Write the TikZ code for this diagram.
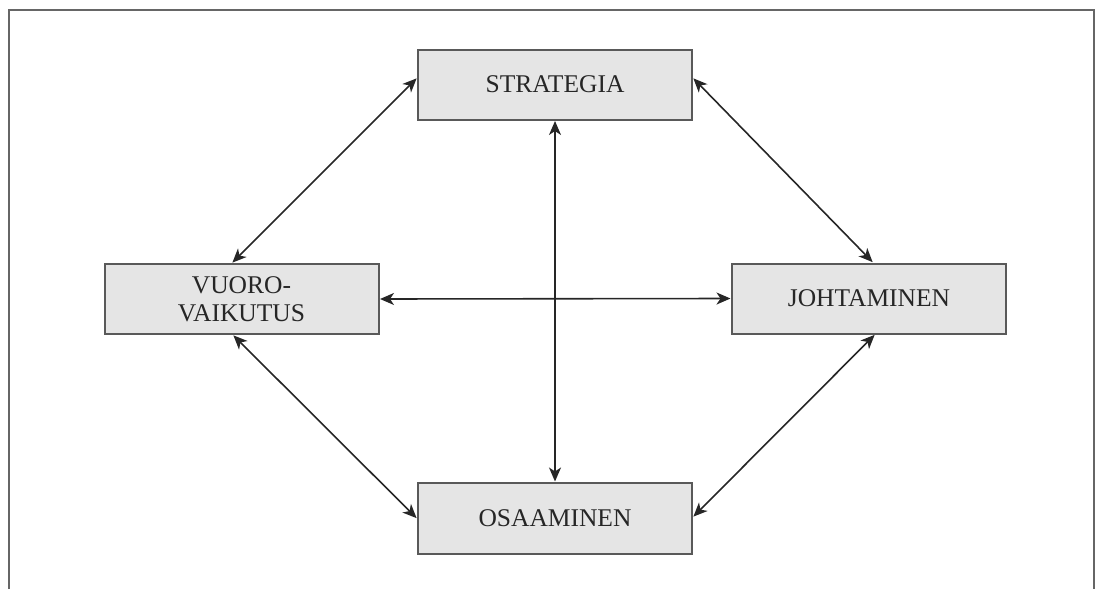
\documentclass[tikz,border=0pt]{standalone}
\usepackage{fontspec}
\setmainfont{Liberation Serif}
\usetikzlibrary{arrows.meta}
\begin{document}
\begin{tikzpicture}[x=1pt,y=-1pt,
  box/.style={draw=black!65,line width=2pt,fill=black!10,minimum width=274pt,minimum height=70pt,inner sep=0pt,align=center,text=black!85,font=\fontsize{25.5}{28}\selectfont},
  link/.style={line width=1.6pt,draw=black!85,{Stealth[length=14pt,width=12pt,inset=4pt]}-{Stealth[length=14pt,width=12pt,inset=4pt]},shorten <=0.5pt,shorten >=0.5pt}]
\useasboundingbox (0,0) rectangle (1100,589);
\draw[line width=2pt,black!60] (9,589) -- (9,10) -- (1094,10) -- (1094,589);
\node[box] (s) at (555,84.5) {STRATEGIA};
\node[box] (v) at (241.5,299) {VUORO-\\VAIKUTUS};
\node[box] (j) at (869,298.5) {JOHTAMINEN};
\node[box,minimum height=71pt] (o) at (555,518.5) {OSAAMINEN};
\draw[link] ([yshift=6.5pt]s.west) -- ([xshift=-9.5pt]v.north);
\draw[link] ([yshift=6.5pt]s.east) -- ([xshift=4pt]j.north);
\draw[link] ([xshift=-8.5pt]v.south) -- (o.west);
\draw[link] ([xshift=6pt]j.south) -- ([yshift=1.5pt]o.east);
\draw[link] (s.south) -- (o.north);
\draw[link] (v.east) -- (j.west);
\end{tikzpicture}
\end{document}
